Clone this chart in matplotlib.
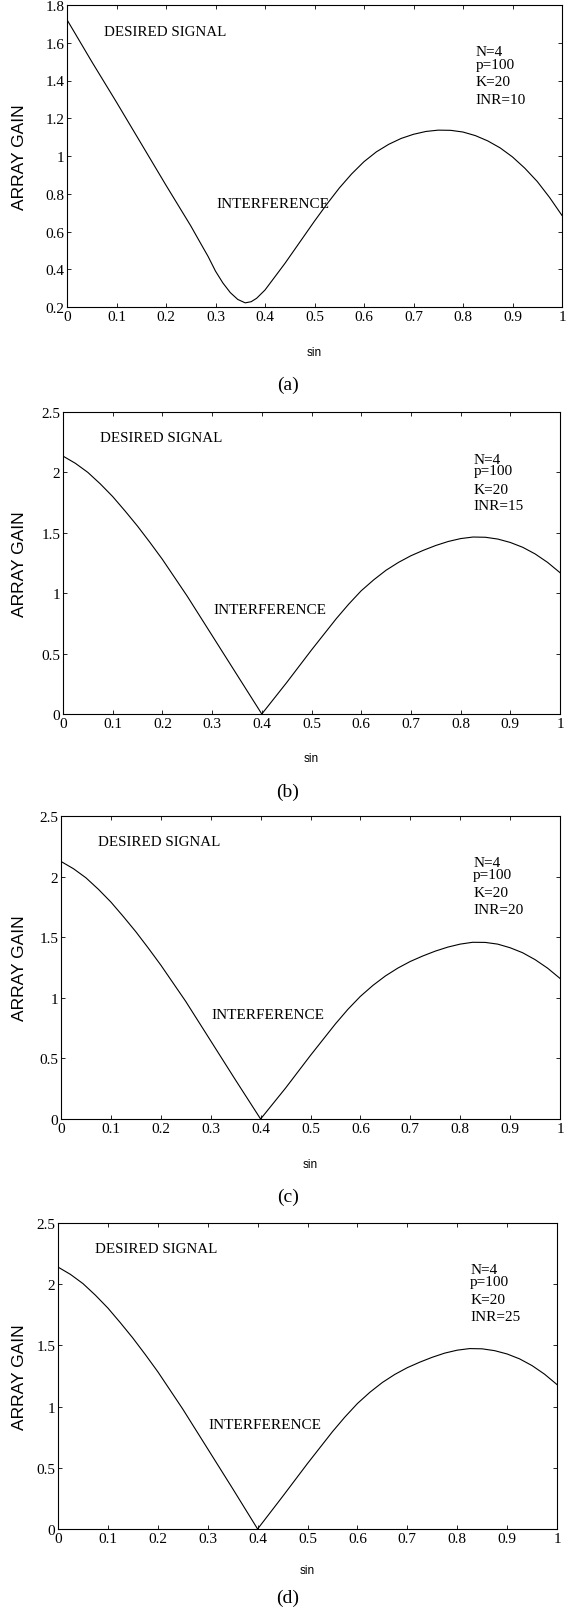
import matplotlib.pyplot as plt
from matplotlib.ticker import FuncFormatter

# array gain vs sin(theta)
x_a = [0, 0.05, 0.1, 0.15, 0.2, 0.25, 0.27, 0.285, 0.3, 0.315, 0.33, 0.345,
       0.36, 0.372, 0.383, 0.4, 0.416, 0.44, 0.464, 0.5, 0.525, 0.55, 0.575,
       0.6, 0.625, 0.65, 0.675, 0.7, 0.725, 0.75, 0.775, 0.8, 0.825, 0.85,
       0.875, 0.9, 0.925, 0.95, 0.975, 1.0]
gain_a = [1.722, 1.50, 1.285, 1.065, 0.845, 0.63, 0.537, 0.468, 0.39, 0.327, 0.276, 0.24,
          0.222, 0.228, 0.246, 0.29, 0.346, 0.43, 0.52, 0.655, 0.745, 0.83, 0.905,
          0.97, 1.022, 1.062, 1.093, 1.115, 1.13, 1.137, 1.136, 1.127, 1.108, 1.08,
          1.043, 0.995, 0.935, 0.865, 0.78, 0.685]

x_bcd = [0, 0.025, 0.05, 0.075, 0.1, 0.125, 0.15, 0.175, 0.2, 0.25, 0.3, 0.35,
         0.4, 0.45, 0.5, 0.55, 0.575, 0.6, 0.625, 0.65, 0.675, 0.7, 0.725,
         0.75, 0.775, 0.8, 0.825, 0.85, 0.875, 0.9, 0.925, 0.95, 0.975, 1.0]
gain_b = [2.135, 2.075, 2.0, 1.905, 1.80, 1.68, 1.555, 1.42, 1.28, 0.975, 0.65, 0.325,
          0.0, 0.26, 0.53, 0.79, 0.91, 1.02, 1.11, 1.19, 1.255, 1.31, 1.355,
          1.395, 1.428, 1.452, 1.465, 1.463, 1.448, 1.42, 1.38, 1.325, 1.255, 1.17]
gain_c = [2.125, 2.065, 1.99, 1.895, 1.79, 1.67, 1.545, 1.41, 1.27, 0.97, 0.645, 0.32,
          0.0, 0.255, 0.525, 0.785, 0.905, 1.012, 1.102, 1.18, 1.245, 1.3, 1.345,
          1.385, 1.418, 1.443, 1.458, 1.457, 1.443, 1.413, 1.372, 1.315, 1.245, 1.16]
gain_d = [2.14, 2.08, 2.005, 1.91, 1.805, 1.685, 1.56, 1.425, 1.285, 0.98, 0.655, 0.33,
          0.0, 0.265, 0.535, 0.795, 0.915, 1.025, 1.117, 1.197, 1.263, 1.318, 1.363,
          1.403, 1.437, 1.461, 1.474, 1.472, 1.457, 1.43, 1.39, 1.335, 1.265, 1.18]

inr_values = [10, 15, 20, 25]
panel_tags = ["(a)", "(b)", "(c)", "(d)"]
xticks = [0, 0.1, 0.2, 0.3, 0.4, 0.5, 0.6, 0.7, 0.8, 0.9, 1.0]
yticks_a = [0.2, 0.4, 0.6, 0.8, 1.0, 1.2, 1.4, 1.6, 1.8]
yticks_bcd = [0, 0.5, 1.0, 1.5, 2.0, 2.5]

W, H = 575, 1615
SERIF = ["Liberation Serif", "DejaVu Serif"]
SANS = ["Liberation Sans", "DejaVu Sans"]

# pixel boxes: left, right, top, bottom
boxes = [(67, 562, 6, 308), (63, 560, 413, 715), (61, 560, 817, 1120), (58, 557, 1224, 1530)]
sin_off = [45, 44, 45, 41]
tag_off = [77, 77, 77, 68]

fig = plt.figure(figsize=(W / 100, H / 100), dpi=100)
fmt = FuncFormatter(lambda v, p: "%g" % v)

series = [(x_a, gain_a, yticks_a), (x_bcd, gain_b, yticks_bcd),
          (x_bcd, gain_c, yticks_bcd), (x_bcd, gain_d, yticks_bcd)]

for i, (xs, ys, yt) in enumerate(series):
    l, r, t, b = boxes[i]
    ax = fig.add_axes([l / W, 1 - b / H, (r - l) / W, (b - t) / H])
    ax.plot(xs, ys, color="black", lw=0.8)
    ax.set_xlim(0, 1)
    ax.set_ylim(yt[0], yt[-1])
    ax.set_xticks(xticks)
    ax.set_yticks(yt)
    ax.xaxis.set_major_formatter(fmt)
    ax.yaxis.set_major_formatter(fmt)
    ax.tick_params(direction="in", top=True, right=True, length=3, width=0.6,
                   labelsize=11, pad=2)
    for lab in ax.get_xticklabels() + ax.get_yticklabels():
        lab.set_family(SERIF)
    for s in ax.spines.values():
        s.set_linewidth(0.8)

    hgt = b - t
    ax.text(0.074, 1 - 26 / hgt, "DESIRED SIGNAL", transform=ax.transAxes,
            family=SERIF, size=10.8, va="center")
    ax.text(0.302, 104 / hgt, "INTERFERENCE", transform=ax.transAxes,
            family=SERIF, size=11, va="center")
    params = ["N=4", "p=100", "K=20", "INR=%d" % inr_values[i]]
    for dy, txt in zip([47, 59, 77, 94], params):
        ax.text(0.826, 1 - dy / hgt, txt, transform=ax.transAxes,
                family=SERIF, size=11, va="center")

    fig.text(20 / W, 1 - (t + b) / 2 / H, "ARRAY GAIN", rotation=90,
             ha="center", va="center", family=SANS, size=12.5)
    fig.text((l + r) / 2 / W, 1 - (b + sin_off[i]) / H, "sin",
             ha="center", va="center", family=SANS, size=8.5)
    fig.text(288 / W, 1 - (b + tag_off[i]) / H, panel_tags[i],
             ha="center", va="center", family=SERIF, size=14)

fig.savefig("out.png", dpi=100)
